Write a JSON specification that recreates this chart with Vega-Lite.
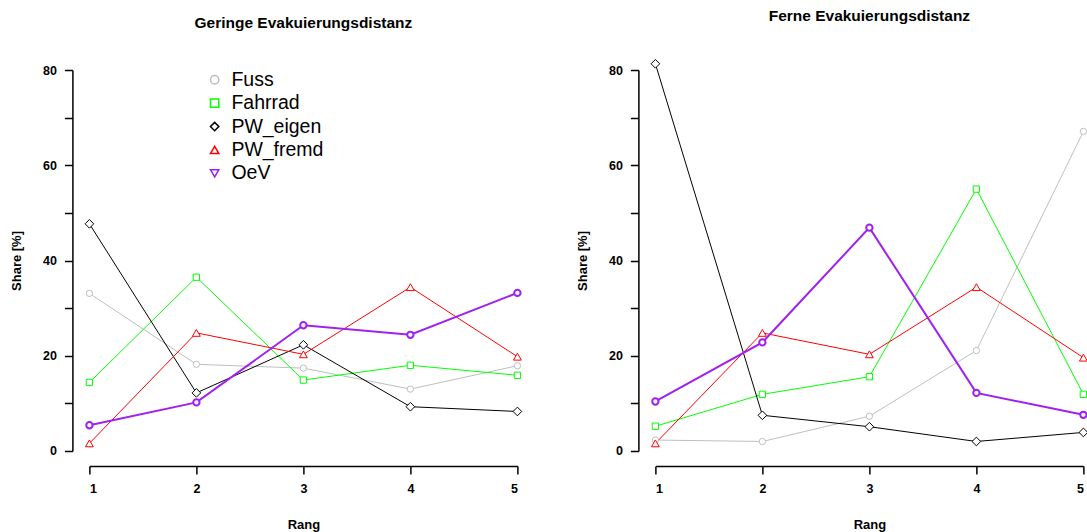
{
  "$schema": "https://vega.github.io/schema/vega-lite/v6.json",
  "background": "white",
  "padding": {"left": 10.4, "top": 8, "right": -2, "bottom": 0},
  "spacing": 138,
  "bounds": "flush",
  "config": {
    "font": "Liberation Sans",
    "view": {"stroke": null},
    "axis": {
      "grid": false,
      "domainColor": "black",
      "tickColor": "black",
      "domainWidth": 1.5,
      "tickWidth": 1.5,
      "tickSize": 8,
      "labelFont": "Liberation Sans",
      "labelFontSize": 12.5,
      "labelFontWeight": "bold",
      "labelColor": "black",
      "titleFont": "Liberation Sans",
      "titleFontSize": 13,
      "titleFontWeight": "bold",
      "titleColor": "black"
    },
    "title": {"font": "Liberation Sans", "fontSize": 15.5, "fontWeight": "bold", "color": "black", "anchor": "middle", "frame": "group", "baseline": "alphabetic", "offset": 33}
  },
  "resolve": {
    "scale": {"color": "independent", "shape": "independent", "stroke": "independent"},
    "legend": {"color": "independent", "shape": "independent", "stroke": "independent"}
  },
  "datasets": {
    "d": [
      {"panel": "Geringe", "mode": "Fuss", "rang": 1, "share": 33.1},
      {"panel": "Geringe", "mode": "Fuss", "rang": 2, "share": 18.2},
      {"panel": "Geringe", "mode": "Fuss", "rang": 3, "share": 17.4},
      {"panel": "Geringe", "mode": "Fuss", "rang": 4, "share": 13.0},
      {"panel": "Geringe", "mode": "Fuss", "rang": 5, "share": 17.9},
      {"panel": "Geringe", "mode": "Fahrrad", "rang": 1, "share": 14.4},
      {"panel": "Geringe", "mode": "Fahrrad", "rang": 2, "share": 36.5},
      {"panel": "Geringe", "mode": "Fahrrad", "rang": 3, "share": 14.9},
      {"panel": "Geringe", "mode": "Fahrrad", "rang": 4, "share": 18.0},
      {"panel": "Geringe", "mode": "Fahrrad", "rang": 5, "share": 15.9},
      {"panel": "Geringe", "mode": "PW_eigen", "rang": 1, "share": 47.7},
      {"panel": "Geringe", "mode": "PW_eigen", "rang": 2, "share": 12.2},
      {"panel": "Geringe", "mode": "PW_eigen", "rang": 3, "share": 22.3},
      {"panel": "Geringe", "mode": "PW_eigen", "rang": 4, "share": 9.3},
      {"panel": "Geringe", "mode": "PW_eigen", "rang": 5, "share": 8.3},
      {"panel": "Geringe", "mode": "PW_fremd", "rang": 1, "share": 1.6},
      {"panel": "Geringe", "mode": "PW_fremd", "rang": 2, "share": 24.8},
      {"panel": "Geringe", "mode": "PW_fremd", "rang": 3, "share": 20.3},
      {"panel": "Geringe", "mode": "PW_fremd", "rang": 4, "share": 34.4},
      {"panel": "Geringe", "mode": "PW_fremd", "rang": 5, "share": 19.8},
      {"panel": "Geringe", "mode": "OeV", "rang": 1, "share": 5.4},
      {"panel": "Geringe", "mode": "OeV", "rang": 2, "share": 10.2},
      {"panel": "Geringe", "mode": "OeV", "rang": 3, "share": 26.4},
      {"panel": "Geringe", "mode": "OeV", "rang": 4, "share": 24.4},
      {"panel": "Geringe", "mode": "OeV", "rang": 5, "share": 33.2},
      {"panel": "Ferne", "mode": "Fuss", "rang": 1, "share": 2.3},
      {"panel": "Ferne", "mode": "Fuss", "rang": 2, "share": 2.0},
      {"panel": "Ferne", "mode": "Fuss", "rang": 3, "share": 7.3},
      {"panel": "Ferne", "mode": "Fuss", "rang": 4, "share": 21.1},
      {"panel": "Ferne", "mode": "Fuss", "rang": 5, "share": 67.1},
      {"panel": "Ferne", "mode": "Fahrrad", "rang": 1, "share": 5.2},
      {"panel": "Ferne", "mode": "Fahrrad", "rang": 2, "share": 11.9},
      {"panel": "Ferne", "mode": "Fahrrad", "rang": 3, "share": 15.6},
      {"panel": "Ferne", "mode": "Fahrrad", "rang": 4, "share": 55.0},
      {"panel": "Ferne", "mode": "Fahrrad", "rang": 5, "share": 11.9},
      {"panel": "Ferne", "mode": "PW_eigen", "rang": 1, "share": 81.3},
      {"panel": "Ferne", "mode": "PW_eigen", "rang": 2, "share": 7.5},
      {"panel": "Ferne", "mode": "PW_eigen", "rang": 3, "share": 5.1},
      {"panel": "Ferne", "mode": "PW_eigen", "rang": 4, "share": 2.0},
      {"panel": "Ferne", "mode": "PW_eigen", "rang": 5, "share": 3.9},
      {"panel": "Ferne", "mode": "PW_fremd", "rang": 1, "share": 1.6},
      {"panel": "Ferne", "mode": "PW_fremd", "rang": 2, "share": 24.8},
      {"panel": "Ferne", "mode": "PW_fremd", "rang": 3, "share": 20.3},
      {"panel": "Ferne", "mode": "PW_fremd", "rang": 4, "share": 34.4},
      {"panel": "Ferne", "mode": "PW_fremd", "rang": 5, "share": 19.6},
      {"panel": "Ferne", "mode": "OeV", "rang": 1, "share": 10.4},
      {"panel": "Ferne", "mode": "OeV", "rang": 2, "share": 22.8},
      {"panel": "Ferne", "mode": "OeV", "rang": 3, "share": 46.9},
      {"panel": "Ferne", "mode": "OeV", "rang": 4, "share": 12.2},
      {"panel": "Ferne", "mode": "OeV", "rang": 5, "share": 7.6}
    ]
  },
  "hconcat": [
    {
      "title": "Geringe Evakuierungsdistanz",
      "width": 428,
      "height": 381,
      "data": {"name": "d"},
      "transform": [{"filter": "datum.panel == 'Geringe'"}],
      "encoding": {
        "x": {"field": "rang", "type": "quantitative", "scale": {"domain": [1, 5], "nice": false, "zero": false},
              "axis": {"values": [1, 2, 3, 4, 5], "offset": 15, "labelPadding": 9, "title": "Rang", "titlePadding": 23}},
        "y": {"field": "share", "type": "quantitative", "scale": {"domain": [0, 80], "nice": false},
              "axis": {"values": [0, 10, 20, 30, 40, 50, 60, 70, 80], "labelExpr": "datum.value % 20 == 0 ? datum.label : ''", "offset": 17, "labelPadding": 8, "title": "Share [%]", "titlePadding": 19}}
      },
      "layer": [
        {
          "mark": {"type": "line"},
          "encoding": {
            "stroke": {"field": "mode", "type": "nominal", "sort": null,
                       "scale": {"domain": ["Fuss", "Fahrrad", "PW_eigen", "PW_fremd", "OeV"], "range": ["#bebebe", "#00ff00", "#000000", "#ff0000", "#a020f0"]},
                       "legend": null},
            "strokeWidth": {"condition": {"test": "datum.mode == 'OeV'", "value": 2}, "value": 1}
          }
        },
        {
          "transform": [{"calculate": "datum.mode == 'OeV' ? 'OeV_pt' : datum.mode", "as": "mk"}],
          "mark": {"type": "point", "filled": false, "fill": "white", "opacity": 1},
          "encoding": {
            "color": {"field": "mk", "type": "nominal",
                      "scale": {"domain": ["Fuss", "Fahrrad", "PW_eigen", "PW_fremd", "OeV", "OeV_pt"], "range": ["#bebebe", "#00ff00", "#000000", "#ff0000", "#a020f0", "#a020f0"]},
                      "legend": {"title": null, "orient": "none", "legendX": 115.5, "legendY": 0, "values": ["Fuss", "Fahrrad", "PW_eigen", "PW_fremd", "OeV"], "labelFontSize": 19.5, "labelFont": "Liberation Sans", "labelFontWeight": "normal", "labelColor": "black", "symbolSize": 70, "symbolStrokeWidth": 1.5, "symbolFillColor": "white", "rowPadding": 2.4, "labelOffset": 7}},
            "shape": {"field": "mk", "type": "nominal",
                      "scale": {"domain": ["Fuss", "Fahrrad", "PW_eigen", "PW_fremd", "OeV", "OeV_pt"], "range": ["circle", "square", "diamond", "triangle-up", "triangle-down", "circle"]},
                      "legend": {"title": null, "orient": "none", "legendX": 115.5, "legendY": 0, "values": ["Fuss", "Fahrrad", "PW_eigen", "PW_fremd", "OeV"], "labelFontSize": 19.5, "labelFont": "Liberation Sans", "labelFontWeight": "normal", "labelColor": "black", "symbolSize": 70, "symbolStrokeWidth": 1.5, "symbolFillColor": "white", "rowPadding": 2.4, "labelOffset": 7}},
            "size": {"condition": [{"test": "datum.mode == 'PW_eigen'", "value": 75}, {"test": "datum.mode == 'PW_fremd'", "value": 62}], "value": 40},
            "strokeWidth": {"condition": {"test": "datum.mode == 'OeV'", "value": 2}, "value": 1}
          }
        }
      ]
    },
    {
      "title": "Ferne Evakuierungsdistanz",
      "width": 428,
      "height": 381,
      "data": {"name": "d"},
      "transform": [{"filter": "datum.panel == 'Ferne'"}],
      "encoding": {
        "x": {"field": "rang", "type": "quantitative", "scale": {"domain": [1, 5], "nice": false, "zero": false},
              "axis": {"values": [1, 2, 3, 4, 5], "offset": 15, "labelPadding": 9, "title": "Rang", "titlePadding": 23}},
        "y": {"field": "share", "type": "quantitative", "scale": {"domain": [0, 80], "nice": false},
              "axis": {"values": [0, 10, 20, 30, 40, 50, 60, 70, 80], "labelExpr": "datum.value % 20 == 0 ? datum.label : ''", "offset": 17, "labelPadding": 8, "title": "Share [%]", "titlePadding": 19}}
      },
      "layer": [
        {
          "mark": {"type": "line"},
          "encoding": {
            "stroke": {"field": "mode", "type": "nominal", "sort": null,
                       "scale": {"domain": ["Fuss", "Fahrrad", "PW_eigen", "PW_fremd", "OeV"], "range": ["#bebebe", "#00ff00", "#000000", "#ff0000", "#a020f0"]},
                       "legend": null},
            "strokeWidth": {"condition": {"test": "datum.mode == 'OeV'", "value": 2}, "value": 1}
          }
        },
        {
          "transform": [{"calculate": "datum.mode == 'OeV' ? 'OeV_pt' : datum.mode", "as": "mk"}],
          "mark": {"type": "point", "filled": false, "fill": "white", "opacity": 1},
          "encoding": {
            "color": {"field": "mk", "type": "nominal",
                      "scale": {"domain": ["Fuss", "Fahrrad", "PW_eigen", "PW_fremd", "OeV", "OeV_pt"], "range": ["#bebebe", "#00ff00", "#000000", "#ff0000", "#a020f0", "#a020f0"]},
                      "legend": null},
            "shape": {"field": "mk", "type": "nominal",
                      "scale": {"domain": ["Fuss", "Fahrrad", "PW_eigen", "PW_fremd", "OeV", "OeV_pt"], "range": ["circle", "square", "diamond", "triangle-up", "triangle-down", "circle"]},
                      "legend": null},
            "size": {"condition": [{"test": "datum.mode == 'PW_eigen'", "value": 75}, {"test": "datum.mode == 'PW_fremd'", "value": 62}], "value": 40},
            "strokeWidth": {"condition": {"test": "datum.mode == 'OeV'", "value": 2}, "value": 1}
          }
        }
      ]
    }
  ]
}
